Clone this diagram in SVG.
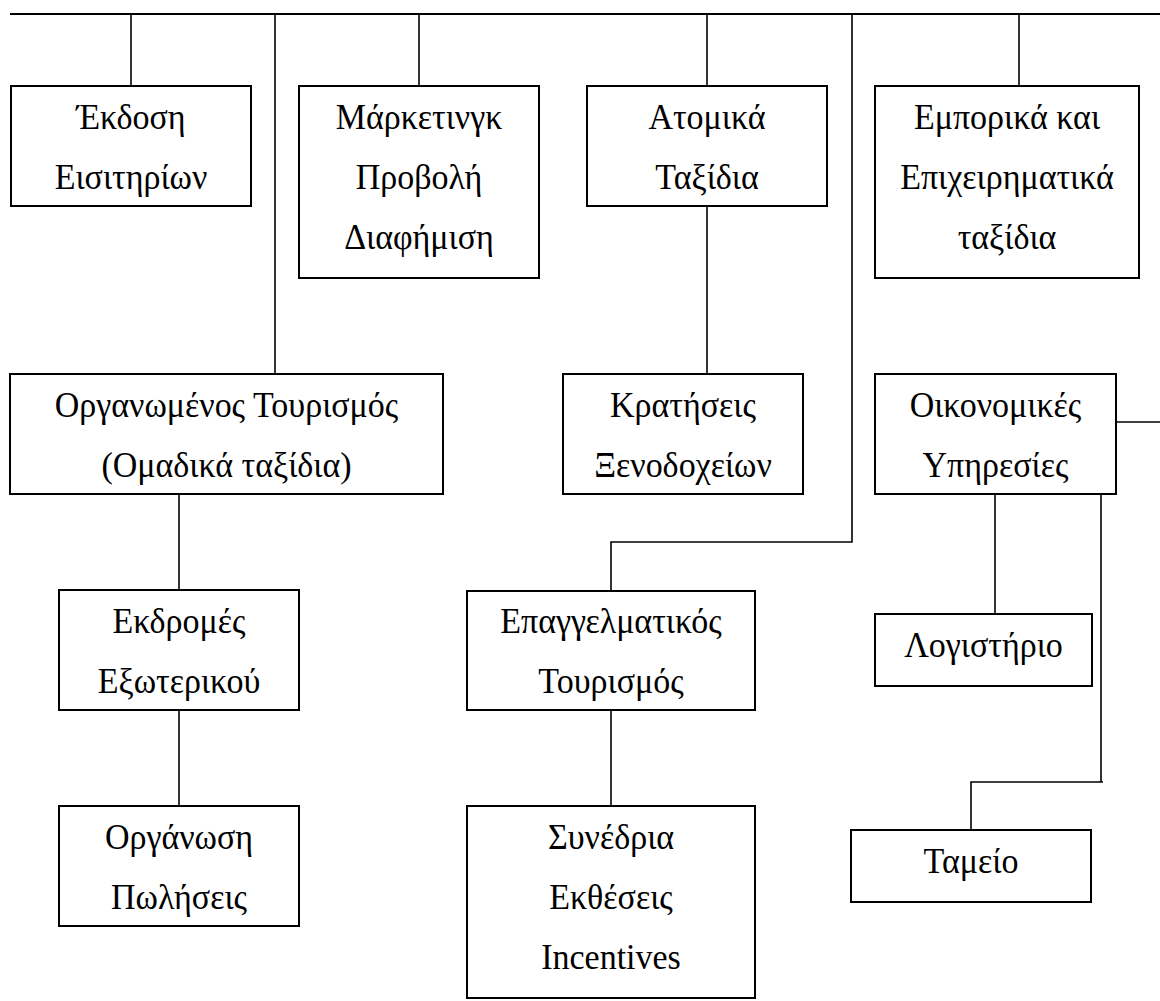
<svg xmlns="http://www.w3.org/2000/svg" width="1160" height="1001" viewBox="0 0 1160 1001">
<style>
  .box{fill:#fff;stroke:#000;stroke-width:2}
  .lbl{font-family:"Liberation Serif","Times New Roman",serif;font-size:34px;fill:#000;text-anchor:middle}
  .conn line,.conn polyline{stroke:#000;stroke-width:1.6;fill:none}
</style>
<rect width="1160" height="1001" fill="#fff"/>
<g id="connectors" class="conn">
  <line x1="10" y1="14" x2="1160" y2="14" style="stroke-width:2"/>
  <line x1="131" y1="14" x2="131" y2="86"/>
  <line x1="275" y1="14" x2="275" y2="374"/>
  <line x1="419" y1="14" x2="419" y2="86"/>
  <line x1="707" y1="14" x2="707" y2="86"/>
  <line x1="707" y1="206" x2="707" y2="374"/>
  <polyline points="852,14 852,542 611,542 611,591"/>
  <line x1="1019" y1="14" x2="1019" y2="86"/>
  <line x1="179" y1="494" x2="179" y2="590"/>
  <line x1="179" y1="710" x2="179" y2="806"/>
  <line x1="611" y1="710" x2="611" y2="806"/>
  <line x1="1116" y1="422" x2="1160" y2="422"/>
  <line x1="995" y1="494" x2="995" y2="614"/>
  <polyline points="1101,495 1101,782 1103,782 971,782 971,830"/>
</g>
<g id="n-ekdosi"><rect class="box" x="11" y="86" width="240" height="120"/>
  <text class="lbl" transform="matrix(1 0 0 1.06 131 129)"><tspan x="0" y="0">Έκδοση</tspan><tspan x="0" y="56.6">Εισιτηρίων</tspan></text></g>
<g id="n-marketing"><rect class="box" x="299" y="86" width="240" height="192"/>
  <text class="lbl" transform="matrix(1 0 0 1.06 419 129)"><tspan x="0" y="0">Μάρκετινγκ</tspan><tspan x="0" y="56.6">Προβολή</tspan><tspan x="0" y="113.2">Διαφήμιση</tspan></text></g>
<g id="n-atomika"><rect class="box" x="587" y="86" width="240" height="120"/>
  <text class="lbl" transform="matrix(1 0 0 1.06 707 129)"><tspan x="0" y="0">Ατομικά</tspan><tspan x="0" y="56.6">Ταξίδια</tspan></text></g>
<g id="n-emporika"><rect class="box" x="875" y="86" width="264" height="192"/>
  <text class="lbl" transform="matrix(1 0 0 1.06 1007 129)"><tspan x="0" y="0">Εμπορικά και</tspan><tspan x="0" y="56.6">Επιχειρηματικά</tspan><tspan x="0" y="113.2">ταξίδια</tspan></text></g>
<g id="n-organomenos"><rect class="box" x="10" y="374" width="433" height="120"/>
  <text class="lbl" transform="matrix(1 0 0 1.06 226.5 417)"><tspan x="0" y="0">Οργανωμένος Τουρισμός</tspan><tspan x="0" y="56.6">(Ομαδικά ταξίδια)</tspan></text></g>
<g id="n-kratiseis"><rect class="box" x="563" y="374" width="240" height="120"/>
  <text class="lbl" transform="matrix(1 0 0 1.06 683 417)"><tspan x="0" y="0">Κρατήσεις</tspan><tspan x="0" y="56.6">Ξενοδοχείων</tspan></text></g>
<g id="n-oikonomikes"><rect class="box" x="875" y="374" width="241" height="120"/>
  <text class="lbl" transform="matrix(1 0 0 1.06 995.5 417)"><tspan x="0" y="0">Οικονομικές</tspan><tspan x="0" y="56.6">Υπηρεσίες</tspan></text></g>
<g id="n-ekdromes"><rect class="box" x="59" y="590" width="240" height="120"/>
  <text class="lbl" transform="matrix(1 0 0 1.06 179 633)"><tspan x="0" y="0">Εκδρομές</tspan><tspan x="0" y="56.6">Εξωτερικού</tspan></text></g>
<g id="n-epaggelmatikos"><rect class="box" x="467" y="591" width="288" height="119"/>
  <text class="lbl" transform="matrix(1 0 0 1.06 611 633)"><tspan x="0" y="0">Επαγγελματικός</tspan><tspan x="0" y="56.6">Τουρισμός</tspan></text></g>
<g id="n-logistirio"><rect class="box" x="875" y="614" width="217" height="72"/>
  <text class="lbl" transform="matrix(1 0 0 1.06 983.5 657)"><tspan x="0" y="0">Λογιστήριο</tspan></text></g>
<g id="n-organosi"><rect class="box" x="59" y="806" width="240" height="120"/>
  <text class="lbl" transform="matrix(1 0 0 1.06 179 849)"><tspan x="0" y="0">Οργάνωση</tspan><tspan x="0" y="56.6">Πωλήσεις</tspan></text></g>
<g id="n-synedria"><rect class="box" x="467" y="806" width="288" height="192"/>
  <text class="lbl" transform="matrix(1 0 0 1.06 611 849)"><tspan x="0" y="0">Συνέδρια</tspan><tspan x="0" y="56.6">Εκθέσεις</tspan><tspan x="0" y="113.2">Incentives</tspan></text></g>
<g id="n-tameio"><rect class="box" x="851" y="830" width="240" height="72"/>
  <text class="lbl" transform="matrix(1 0 0 1.06 971 873)"><tspan x="0" y="0">Ταμείο</tspan></text></g>
</svg>
